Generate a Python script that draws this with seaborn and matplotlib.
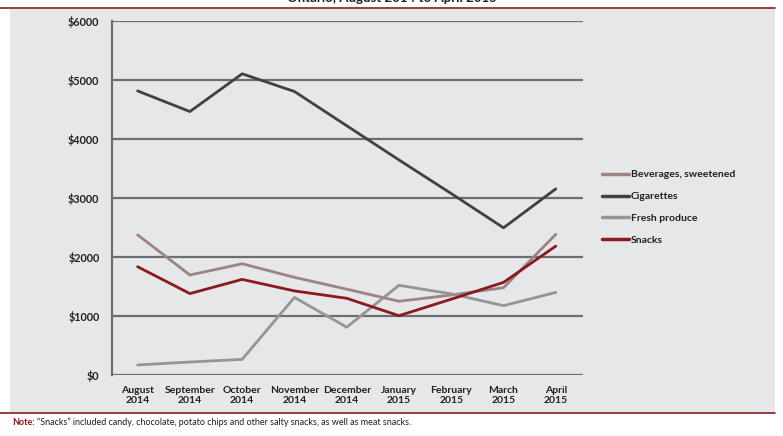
import pandas as pd
import matplotlib.pyplot as plt
import matplotlib.patches as mpatches
import seaborn as sns

# Daten
MONATE = ["August\n2014", "September\n2014", "October\n2014", "November\n2014", "December\n2014",
          "January\n2015", "February\n2015", "March\n2015", "April\n2015"]
GETRAENKE = [2370, 1690, 1880, 1650, 1450, 1245, 1350, 1475, 2380]
ZIGARETTEN = [4810, 4460, 5100, 4800, 4220, 3640, 3070, 2490, 3150]
FRISCH = [165, 215, 260, 1310, 805, 1515, 1370, 1170, 1395]
SNACKS = [1830, 1375, 1615, 1420, 1295, 1000, 1280, 1565, 2180]
SERIEN = ["Beverages, sweetened", "Cigarettes", "Fresh produce", "Snacks"]
FARBEN = ["#9c8385", "#414042", "#939598", "#8b1a1f"]
Y_TICKS = [0, 1000, 2000, 3000, 4000, 5000, 6000]

HINTERGRUND = "#e6e7e8"
GITTER = "#6d6e71"
TEXT = "#231f20"
ROT = "#8b1a1f"

sns.set_style("white")
plt.rcParams["font.family"] = ["Lato", "DejaVu Sans"]

df = pd.DataFrame({
    "Monat": list(range(len(MONATE))) * 4,
    "Wert": GETRAENKE + ZIGARETTEN + FRISCH + SNACKS,
    "Serie": [s for s in SERIEN for _ in MONATE],
})

fig = plt.figure(figsize=(7.83, 4.36), dpi=100)
fig.patch.set_facecolor("white")
# grauer Hintergrund
fig.patches.append(mpatches.Rectangle((10 / 783, 1 - 413 / 436), 765 / 783, 404 / 436,
                                      transform=fig.transFigure, facecolor=HINTERGRUND,
                                      edgecolor="none", zorder=-5))
# rote Linien oben und unten
fig.add_artist(plt.Line2D([0, 775 / 783], [1 - 8.5 / 436] * 2, color=ROT, lw=1.2))
fig.add_artist(plt.Line2D([0, 775 / 783], [1 - 413 / 436] * 2, color=ROT, lw=1.2))

ax = fig.add_axes([112 / 783, 1 - 374.7 / 436, (583 - 112) / 783, (374.7 - 20.7) / 436])
ax.set_facecolor("none")

sns.lineplot(data=df, x="Monat", y="Wert", hue="Serie", palette=FARBEN, hue_order=SERIEN,
             linewidth=2.0, ax=ax, zorder=3)

ax.set_xlim(-0.49, 8.52)
ax.set_ylim(0, 6000)
ax.set_yticks(Y_TICKS)
ax.set_yticklabels([f"${v}" for v in Y_TICKS], fontsize=7.8, fontweight="bold", color=TEXT)
ax.set_xticks(range(len(MONATE)))
ax.set_xticklabels(MONATE, fontsize=7.5, fontweight="bold", color=TEXT, linespacing=1.1)
ax.set_xlabel("")
ax.set_ylabel("")

for v in Y_TICKS:
    ax.axhline(v, color=GITTER, lw=1.6, zorder=1)
for s in ["top", "right", "bottom"]:
    ax.spines[s].set_visible(False)
ax.spines["left"].set_color(GITTER)
ax.spines["left"].set_linewidth(1.6)
ax.tick_params(axis="y", length=5, width=1.6, color=GITTER, pad=4)
ax.tick_params(axis="x", length=3, width=1.2, color=GITTER, pad=5)

leg = ax.legend(loc="upper left", bbox_to_anchor=(598 / 783, 1 - 166 / 436),
                bbox_transform=fig.transFigure, frameon=False, fontsize=7.5,
                handlelength=2.6, handletextpad=0.15, labelspacing=1.2, borderaxespad=0)
for t in leg.get_texts():
    t.set_fontweight("bold")
    t.set_color(TEXT)
for h in leg.get_lines():
    h.set_linewidth(2.5)

# Titel (oben angeschnitten, wie im Original)
fig.text(0.5, 1 - 4 / 436, "Ontario, August 2014 to April 2015", ha="center", va="bottom",
         fontsize=9.5, fontweight="bold", color=TEXT)

# Anmerkung
fig.text(12 / 783, 1 - 422 / 436, "Note:", ha="left", va="center", fontsize=6.5,
         fontweight="bold", color=ROT)
fig.text(37 / 783, 1 - 422 / 436,
         "\u201cSnacks\u201d included candy, chocolate, potato chips and other salty snacks, as well as meat snacks.",
         ha="left", va="center", fontsize=6.5, color=TEXT)

fig.savefig("out.png", dpi=100)
